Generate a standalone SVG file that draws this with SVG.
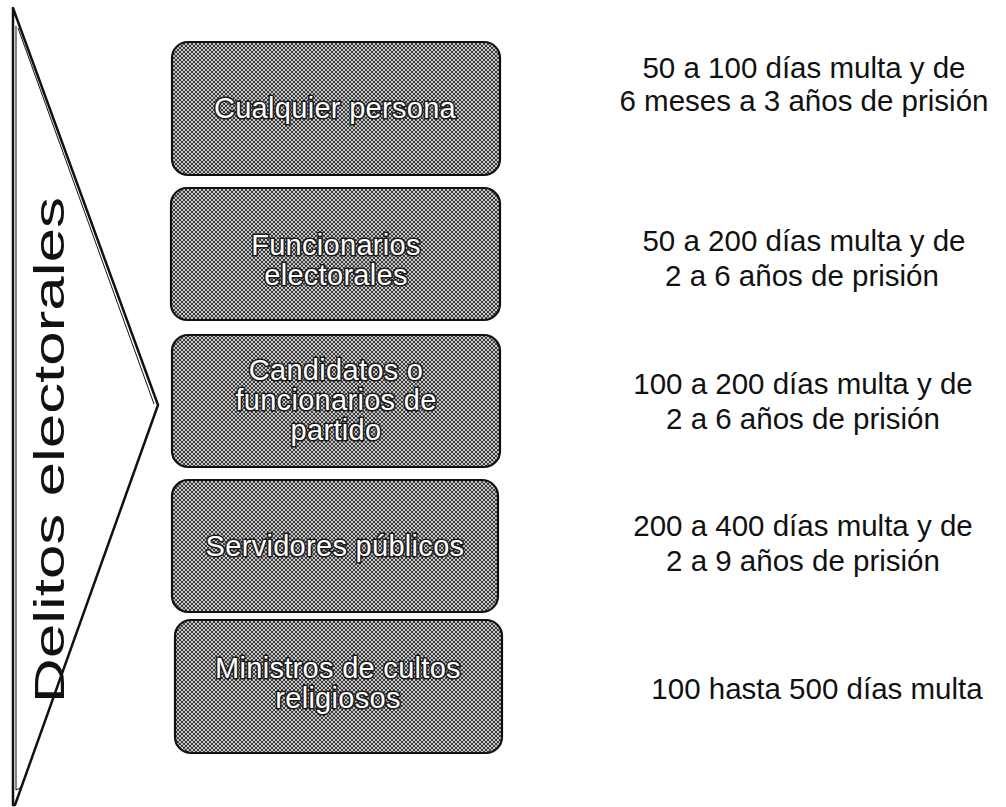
<svg xmlns="http://www.w3.org/2000/svg" width="1006" height="807" viewBox="0 0 1006 807">
  <style>
    .box { fill: url(#dither); stroke: #111; stroke-width: 2.2; }
    .btxt { font-family: "Liberation Sans", Arial, sans-serif; font-size: 29px; letter-spacing: 0.3px; fill: #fff; stroke: #1a1a1a; stroke-width: 3.2; stroke-linejoin: round; paint-order: stroke; text-anchor: middle; }
    .rtxt { font-family: "Liberation Sans", Arial, sans-serif; font-size: 29.5px; fill: #111; text-anchor: middle; }
    .vtxt { font-family: "Liberation Sans", Arial, sans-serif; font-size: 42px; fill: #111; text-anchor: middle; }
    .chev { fill: none; stroke: #111; stroke-linejoin: round; }
  </style>
  <defs>
    <pattern id="dither" x="0" y="0" width="4" height="4" patternUnits="userSpaceOnUse">
      <rect width="4" height="4" fill="#c4c4c4"/>
      <path d="M0 0h1v1h-1z M1 1h1v1h-1z M2 2h1v1h-1z M3 3h1v1h-1z M3 0h1v1h-1z M2 1h1v1h-1z M1 2h1v1h-1z M0 3h1v1h-1z" fill="#3c3c3c"/>
    </pattern>
  </defs>
  <rect width="1006" height="807" fill="#fff"/>

  <g id="chevron">
    <polygon class="chev" stroke-width="2.5" points="13,8 158,405 15,805 13,805"/>
    <polyline class="chev" stroke-width="1" points="16,26 16,790 20,788"/>
    <line class="chev" stroke-width="1" x1="18" y1="28" x2="154" y2="404"/>
    <text class="vtxt" transform="translate(64,450) rotate(-90)" textLength="506" lengthAdjust="spacingAndGlyphs">Delitos electorales</text>
  </g>

  <g id="node1">
    <rect class="box" x="172" y="42" width="328" height="133" rx="16"/>
    <text class="btxt" x="335" y="118">Cualquier persona</text>
  </g>
  <g id="node2">
    <rect class="box" x="171" y="188" width="329" height="132" rx="16"/>
    <text class="btxt" x="336" y="255">Funcionarios</text>
    <text class="btxt" x="336" y="285">electorales</text>
  </g>
  <g id="node3">
    <rect class="box" x="172" y="335" width="328" height="132" rx="16"/>
    <text class="btxt" x="336" y="380">Candidatos o</text>
    <text class="btxt" x="336" y="410">funcionarios de</text>
    <text class="btxt" x="336" y="440">partido</text>
  </g>
  <g id="node4">
    <rect class="box" x="172" y="480" width="326" height="132" rx="16"/>
    <text class="btxt" x="335" y="556">Servidores públicos</text>
  </g>
  <g id="node5">
    <rect class="box" x="175" y="620" width="327" height="133" rx="16"/>
    <text class="btxt" x="338" y="678">Ministros de cultos</text>
    <text class="btxt" x="338" y="708">religiosos</text>
  </g>

  <g id="penalties">
    <text class="rtxt" x="804" y="78">50 a 100 días multa y de</text>
    <text class="rtxt" x="804" y="111">6 meses a 3 años de prisión</text>
    <text class="rtxt" x="804" y="251">50 a 200 días multa y de</text>
    <text class="rtxt" x="802" y="286">2 a 6 años de prisión</text>
    <text class="rtxt" x="803" y="394">100 a 200 días multa y de</text>
    <text class="rtxt" x="803" y="429">2 a 6 años de prisión</text>
    <text class="rtxt" x="803" y="536">200 a 400 días multa y de</text>
    <text class="rtxt" x="803" y="571">2 a 9 años de prisión</text>
    <text class="rtxt" x="817" y="699">100 hasta 500 días multa</text>
  </g>

  <g id="connectors"></g>
</svg>
